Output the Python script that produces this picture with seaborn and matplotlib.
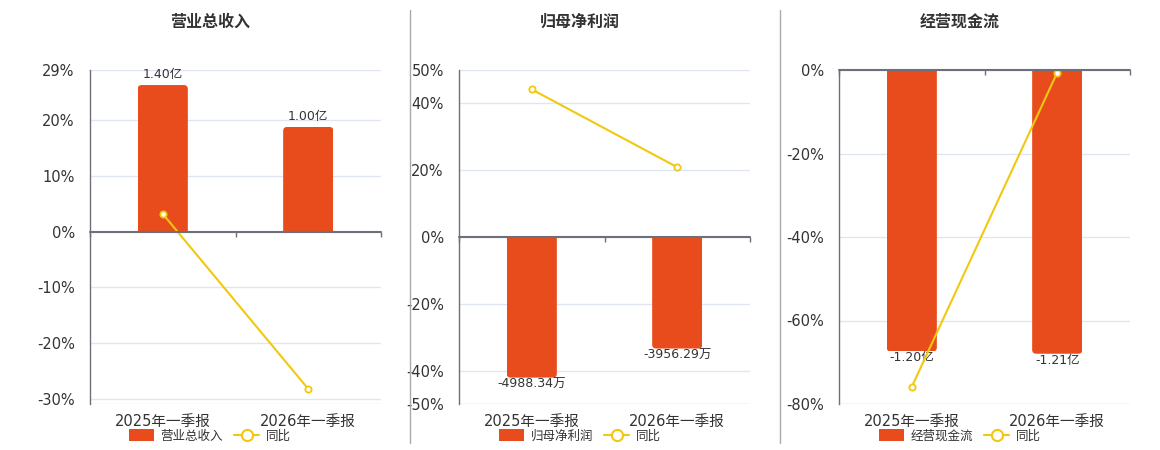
import numpy as np
import pandas as pd
import matplotlib
matplotlib.use("Agg")
import matplotlib.pyplot as plt
import seaborn as sns
from matplotlib.patches import FancyBboxPatch, Rectangle, Patch
from matplotlib.lines import Line2D

# ---------------- data ----------------
categories = ["2025年一季报", "2026年一季报"]
titles = ["营业总收入", "归母净利润", "经营现金流"]
bar_names = ["营业总收入", "归母净利润", "经营现金流"]

revenue = [1.40, 1.00]            # 亿
net_profit = [-4988.34, -3956.29]  # 万
cash_flow = [-1.20, -1.21]         # 亿
revenue_labels = ["1.40亿", "1.00亿"]
net_profit_labels = ["-4988.34万", "-3956.29万"]
cash_flow_labels = ["-1.20亿", "-1.21亿"]

yoy_revenue = [3.2, -28.2]
yoy_net_profit = [44.2, 20.9]
yoy_cash_flow = [-75.9, -0.6]

pct_ylims = [(-30.9, 29), (-50, 50), (-80, 0)]
pct_ticks = [[29, 20, 10, 0, -10, -20, -30],
             [50, 40, 20, 0, -20, -40, -50],
             [0, -20, -40, -60, -80]]
# position (on the % axis) of the first bar's end, sets the bar-axis scale
first_bar_pct = [26.3, -42.1, -67.4]

bars_all = [revenue, net_profit, cash_flow]
labels_all = [revenue_labels, net_profit_labels, cash_flow_labels]
yoy_all = [yoy_revenue, yoy_net_profit, yoy_cash_flow]

# ---------------- style ----------------
BAR = "#E84C1C"
LINE = "#F2C80F"
GRID = "#E0E6F1"
AXIS = "#6E7079"
TXT = "#333333"

sns.set_theme(style="white")
plt.rcParams["font.family"] = ["DejaVu Sans", "Noto Sans CJK SC"]

W, H = 1160, 450
fig = plt.figure(figsize=(W / 100, H / 100), dpi=100)

ax_lefts = [90, 459, 839]
ax_w = 291
ax_top, ax_bot = 70, 404
centers = [210, 580, 960]

for i in range(3):
    l = ax_lefts[i]
    ax = fig.add_axes([l / W, 1 - ax_bot / H, ax_w / W, (ax_bot - ax_top) / H])
    axb = ax.twinx()
    ax.set_zorder(axb.get_zorder() + 1)
    ax.patch.set_visible(False)

    lo, hi = pct_ylims[i]
    scale = bars_all[i][0] / first_bar_pct[i]

    df = pd.DataFrame({"cat": categories, "val": bars_all[i], "yoy": yoy_all[i]})

    # bars on the hidden twin axis
    sns.barplot(data=df, x="cat", y="val", ax=axb, color=BAR, width=0.345,
                saturation=1, errorbar=None)
    axb.set_ylim(lo * scale, hi * scale)
    axb.set_xlim(-0.5, len(categories) - 0.5)
    axb.set_yticks([t * scale for t in pct_ticks[i]])
    axb.yaxis.grid(True, color=GRID, lw=1)
    axb.axhline(lo * scale, color=GRID, lw=1, zorder=0.5)
    axb.set_axisbelow(True)
    axb.tick_params(right=False, labelright=False, left=False, labelleft=False,
                    bottom=False, labelbottom=False)
    for s in axb.spines.values():
        s.set_visible(False)
    axb.set_xlabel("")
    axb.set_ylabel("")

    # rounded bar ends
    t = axb.transData
    p0 = t.transform((0, 0))
    px_x = t.transform((1, 0))[0] - p0[0]
    px_y = t.transform((0, 1))[1] - p0[1]
    r_px = 4
    rx = r_px / px_x
    ry = r_px / px_y
    for j, p in enumerate(list(axb.patches)):
        x, y, w, h = p.get_x(), p.get_y(), p.get_width(), p.get_height()
        y_lo, y_hi = min(y, y + h), max(y, y + h)
        if h >= 0:
            by0, bh = y_lo - 2 * ry, (y_hi - y_lo) + 2 * ry
        else:
            by0, bh = y_lo, (y_hi - y_lo) + 2 * ry
        fb = FancyBboxPatch((x, by0), w, bh,
                            boxstyle=f"round,pad=0,rounding_size={rx}",
                            mutation_aspect=px_x / px_y,
                            facecolor=BAR, edgecolor="none",
                            transform=axb.transData, zorder=2)
        clip = Rectangle((x, y_lo), w, y_hi - y_lo, transform=axb.transData)
        axb.add_patch(fb)
        fb.set_clip_path(clip)
        p.set_visible(False)
        cx = x + w / 2
        if h >= 0:
            axb.annotate(labels_all[i][j], (cx, y_hi), xytext=(0, 3),
                         textcoords="offset points", ha="center", va="bottom",
                         fontsize=9, color=TXT, zorder=5)
        else:
            axb.annotate(labels_all[i][j], (cx, y_lo), xytext=(0, 0),
                         textcoords="offset points", ha="center", va="top",
                         fontsize=9, color=TXT, zorder=5)

    # yoy line on the visible percentage axis
    sns.pointplot(data=df, x="cat", y="yoy", ax=ax, color=LINE, errorbar=None,
                  markers="o", linestyles="-", linewidth=1.5, markersize=4.5,
                  markerfacecolor="white", markeredgecolor=LINE,
                  markeredgewidth=1.3)
    ax.set_ylim(lo, hi)
    ax.set_xlim(-0.5, len(categories) - 0.5)
    ax.set_yticks(pct_ticks[i])
    ax.set_yticklabels([f"{v}%" for v in pct_ticks[i]])
    ax.grid(False)
    ax.set_xlabel("")
    ax.set_ylabel("")
    for k in ["top", "right", "bottom"]:
        ax.spines[k].set_visible(False)
    ax.spines["left"].set_color(AXIS)
    ax.spines["left"].set_linewidth(1)
    ax.tick_params(axis="y", left=False, labelsize=10.5, colors=TXT, pad=5)
    ax.tick_params(axis="x", bottom=False, labelsize=10.5, colors=TXT, pad=1)

    # zero line with category-boundary ticks
    ax.axhline(0, color=AXIS, lw=1.5, zorder=3, clip_on=False)
    dy = 5 / (ax.transData.transform((0, 1))[1] - ax.transData.transform((0, 0))[1])
    ax.vlines(np.arange(len(categories) + 1) - 0.5, -dy, 0, color=AXIS, lw=1,
              zorder=3, clip_on=False)

    # title
    fig.text(centers[i] / W, 1 - 22 / H, titles[i], ha="center", va="center",
             fontsize=11.5, fontweight="bold", color=TXT)

    # legend
    handles = [Patch(facecolor=BAR, edgecolor="none"),
               Line2D([], [], color=LINE, lw=1.5, marker="o", markersize=8,
                      markerfacecolor="white", markeredgecolor=LINE,
                      markeredgewidth=1.5)]
    fig.legend(handles, [bar_names[i], "同比"], loc="center",
               bbox_to_anchor=(centers[i] / W, 1 - 436 / H), ncol=2,
               frameon=False, fontsize=9, handlelength=2.0, handleheight=1.1,
               handletextpad=0.5, columnspacing=0.9, labelcolor=TXT,
               borderpad=0, borderaxespad=0)

# panel separators
for xs in [410, 780]:
    fig.add_artist(Line2D([xs / W, xs / W], [1 - 10 / H, 1 - 443 / H],
                          color="#AAAAAA", lw=1, transform=fig.transFigure))

fig.savefig("out.png", dpi=100)
